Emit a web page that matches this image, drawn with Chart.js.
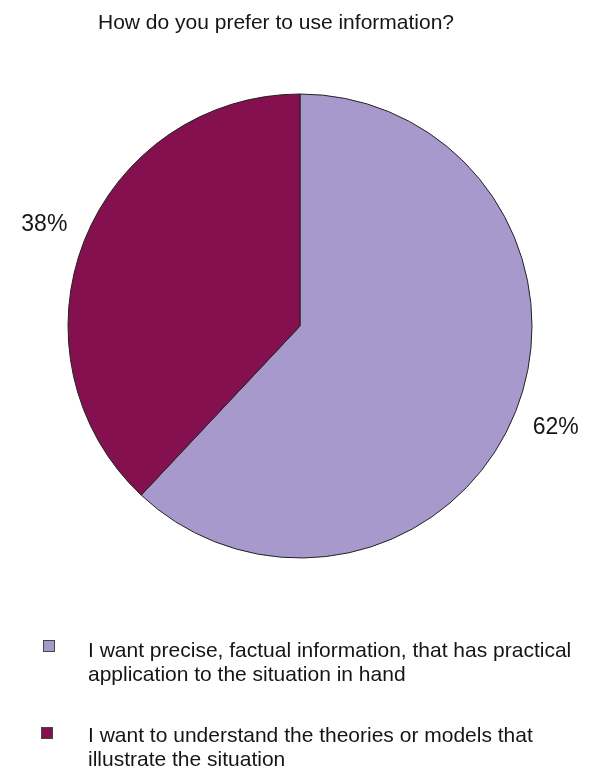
<!DOCTYPE html>
<html>
<head>
<meta charset="utf-8">
<script src="https://cdn.jsdelivr.net/npm/chart.js@4/dist/chart.umd.min.js"></script>
<style>
  html, body { margin: 0; padding: 0; background: #ffffff; }
  #wrap { position: relative; width: 589px; height: 772px; }
</style>
</head>
<body>
<div id="wrap"><canvas id="pie" width="589" height="772"></canvas></div>
<script>
// Survey answers and their shares (percent)
const titleText = 'How do you prefer to use information?';
const categories = [
  ['I want precise, factual information, that has practical', 'application to the situation in hand'],
  ['I want to understand the theories or models that', 'illustrate the situation']
];
const shares = [62, 38];
const sliceColors = ['#a899cc', '#85104f'];

const FONT = '"Liberation Sans", Arial, sans-serif';

// Title, outside percentage labels and the wrapped legend
const decorations = {
  id: 'decorations',
  afterDraw(chart) {
    const ctx = chart.ctx;
    ctx.save();
    ctx.fillStyle = '#151515';

    ctx.font = '21px ' + FONT;
    ctx.textAlign = 'center';
    ctx.textBaseline = 'alphabetic';
    ctx.fillText(titleText, 276, 29);

    // percentage labels placed just outside each slice
    const arcs = chart.getDatasetMeta(0).data;
    ctx.font = '23px ' + FONT;
    ctx.textBaseline = 'middle';
    arcs.forEach((arc, i) => {
      const mid = (arc.startAngle + arc.endAngle) / 2;
      const r = arc.outerRadius + 43;
      const x = arc.x + Math.cos(mid) * r;
      const y = arc.y + Math.sin(mid) * r;
      ctx.textAlign = 'center';
      ctx.fillText(shares[i] + '%', x, y);
    });

    // legend: swatch + two wrapped lines per entry
    ctx.font = '21px ' + FONT;
    ctx.textAlign = 'left';
    ctx.textBaseline = 'alphabetic';
    const entries = [
      { sx: 43, sy: 640, base: 657 },
      { sx: 41, sy: 727, base: 742 }
    ];
    categories.forEach((lines, i) => {
      const e = entries[i];
      ctx.fillStyle = sliceColors[i];
      ctx.strokeStyle = '#444444';
      ctx.lineWidth = 1;
      ctx.fillRect(e.sx, e.sy, 12, 12);
      ctx.strokeRect(e.sx + 0.5, e.sy + 0.5, 11, 11);
      ctx.fillStyle = '#151515';
      lines.forEach((t, k) => ctx.fillText(t, 88, e.base + k * 23.5));
    });
    ctx.restore();
  }
};

new Chart(document.getElementById('pie'), {
  type: 'pie',
  data: {
    labels: categories.map(l => l.join(' ')),
    datasets: [{
      data: shares,
      backgroundColor: sliceColors,
      borderColor: '#222222',
      borderWidth: 1
    }]
  },
  options: {
    responsive: false,
    animation: false,
    layout: { padding: { left: 67.5, right: 56.5, top: 93.5, bottom: 213.5 } },
    plugins: {
      legend: { display: false },
      title: { display: false },
      tooltip: { enabled: false }
    }
  },
  plugins: [decorations]
});
</script>
</body>
</html>
